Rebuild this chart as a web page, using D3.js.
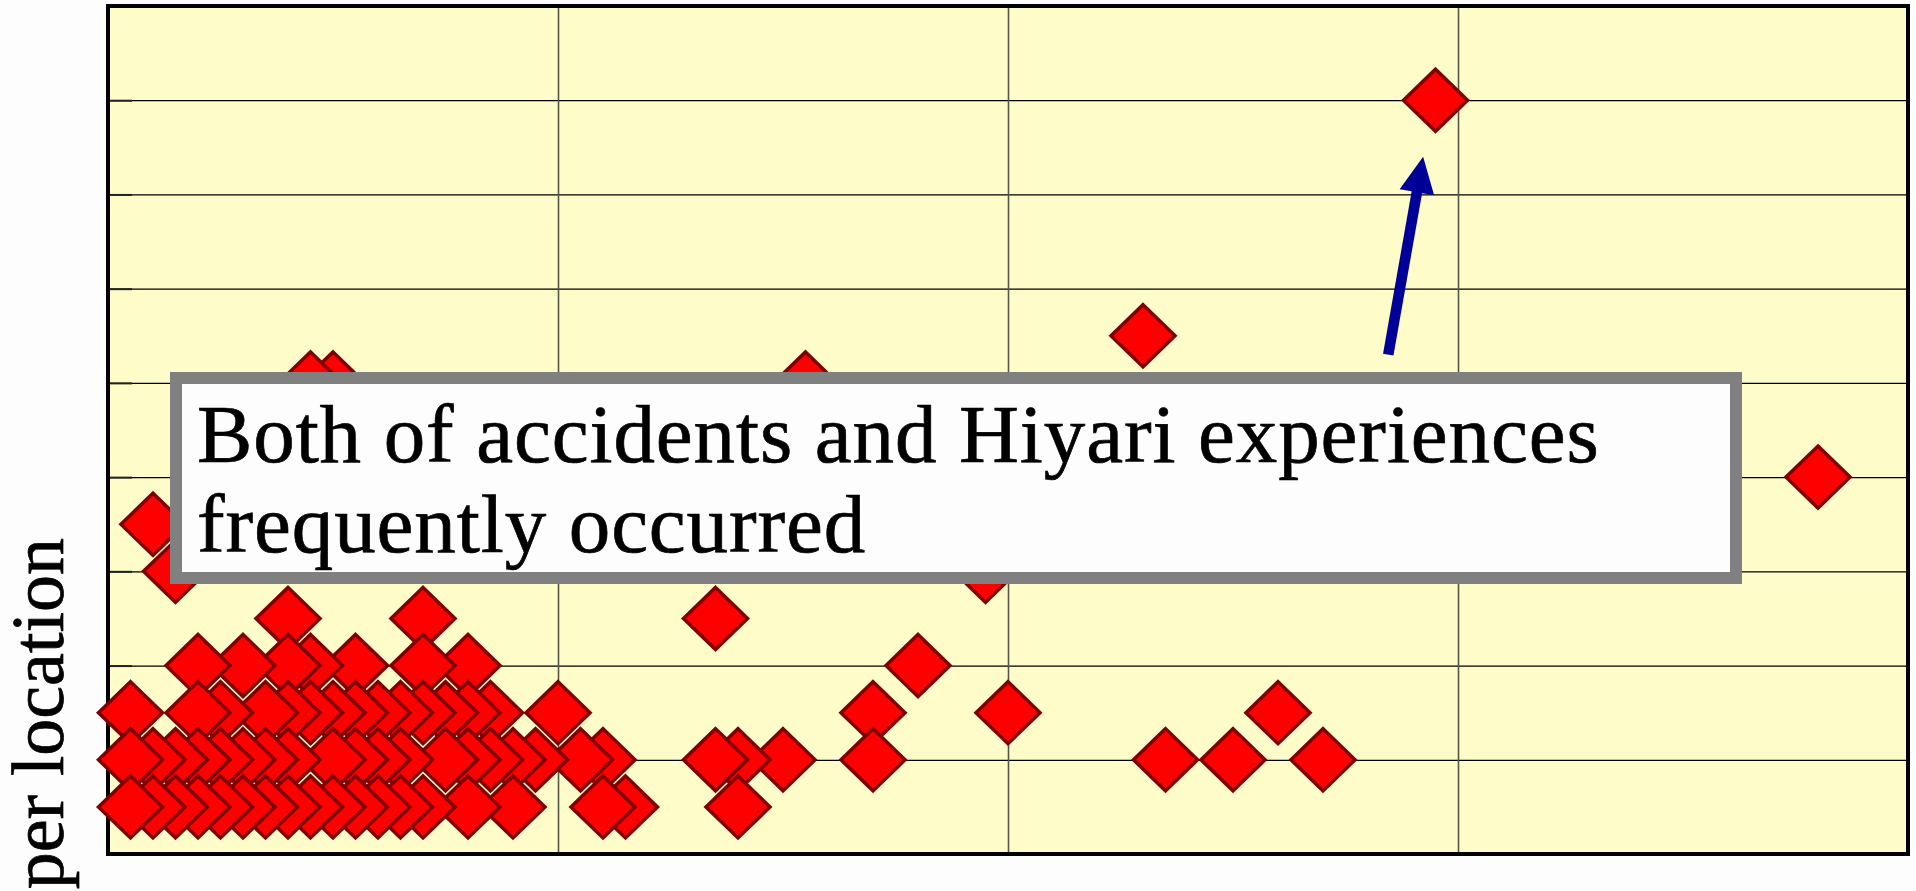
<!DOCTYPE html>
<html>
<head>
<meta charset="utf-8">
<script src="https://cdn.jsdelivr.net/npm/d3@7/dist/d3.min.js"></script>
<style>
  html, body { margin: 0; padding: 0; background: #fdfdfd; overflow: hidden; }
  svg { display: block; }
</style>
</head>
<body>
<svg id="chart" width="1916" height="891"></svg>
<script>
// ---- data (listed in drawing order) ----
const hiyariCount = [
  59,
  46,
  31, 10, 9,
  76,
  2,
  39, 3,
  27, 14, 8,
  36, 16, 14, 11, 9, 8, 6, 4,
  52, 40, 34, 20, 17, 16, 15, 14, 13, 12, 11, 10, 9, 8, 7, 5, 4, 1,
  54, 50, 47, 34, 30, 28, 27, 22, 21, 19, 18, 17, 16, 15, 13, 12, 11, 10, 8, 7, 6, 5, 4, 3, 2, 1,
  28, 23, 22, 18, 16, 14, 13, 12, 11, 10, 9, 8, 7, 6, 5, 4, 3, 2, 1
];
const accidentCount = [
  16,
  11,
  10, 10, 10,
  8,
  7,
  6, 6,
  5, 5, 5,
  4, 4, 4, 4, 4, 4, 4, 4,
  3, 3, 3, 3, 3, 3, 3, 3, 3, 3, 3, 3, 3, 3, 3, 3, 3, 3,
  2, 2, 2, 2, 2, 2, 2, 2, 2, 2, 2, 2, 2, 2, 2, 2, 2, 2, 2, 2, 2, 2, 2, 2, 2, 2,
  1, 1, 1, 1, 1, 1, 1, 1, 1, 1, 1, 1, 1, 1, 1, 1, 1, 1, 1
];
const xTicks = [0, 20, 40, 60, 80];
const yTicks = [0, 2, 4, 6, 8, 10, 12, 14, 16, 18];
const yAxisLabel = "per location";
const noteLines = ["Both of accidents and Hiyari experiences", "frequently occurred"];
const arrowFrom = [56.9, 10.6];   // data units (annotation)
const arrowTo   = [58.45, 14.8];

// ---- layout ----
const svg = d3.select("#chart");
const plot = { left: 108, right: 1908, top: 6, bottom: 854 };
const W = plot.right - plot.left, H = plot.bottom - plot.top;

const x = d3.scaleLinear().domain([0, 80]).range([plot.left, plot.right]);
const y = d3.scaleLinear().domain([0, 18]).range([plot.bottom, plot.top]);

// plot background
svg.append("rect")
  .attr("x", plot.left).attr("y", plot.top)
  .attr("width", W).attr("height", H)
  .attr("fill", "#fefcc8");

// horizontal gridlines
const gy = svg.append("g")
  .attr("transform", `translate(${plot.left},0)`)
  .call(d3.axisLeft(y).tickValues(yTicks).tickSize(-W).tickFormat(""));
gy.select(".domain").remove();
gy.selectAll("line").attr("stroke", "#000").attr("stroke-width", 1.3);

// vertical gridlines
const gx = svg.append("g")
  .attr("transform", `translate(0,${plot.bottom})`)
  .call(d3.axisBottom(x).tickValues(xTicks).tickSize(-H).tickFormat(""));
gx.select(".domain").remove();
gx.selectAll("line").attr("stroke", "#55554a").attr("stroke-width", 1.6);

// inward tick stubs on the left axis
const gs = svg.append("g")
  .attr("transform", `translate(${plot.left},0)`)
  .call(d3.axisLeft(y).tickValues(yTicks).tickSize(-24).tickFormat(""));
gs.select(".domain").remove();
gs.selectAll("line").attr("stroke", "#222").attr("stroke-width", 2);

// plot border
svg.append("rect")
  .attr("x", plot.left).attr("y", plot.top)
  .attr("width", W).attr("height", H)
  .attr("fill", "none").attr("stroke", "#000").attr("stroke-width", 4);

// points (diamonds)
const points = hiyariCount.map((v, i) => ({ x: v, y: accidentCount[i] }));
const diamond = "M0,-31L32,0L0,31L-32,0Z";
svg.append("g").selectAll("path")
  .data(points)
  .join("path")
  .attr("d", diamond)
  .attr("transform", d => `translate(${x(d.x)},${y(d.y)})`)
  .attr("fill", "#ff0000")
  .attr("stroke", "#800000")
  .attr("stroke-width", 3.5)
  .attr("stroke-linejoin", "miter");

// note box
const box = { x: 176, y: 378, w: 1560, h: 200 };
svg.append("rect")
  .attr("x", box.x).attr("y", box.y)
  .attr("width", box.w).attr("height", box.h)
  .attr("fill", "#fdfdfd").attr("stroke", "#808080").attr("stroke-width", 12);

svg.append("g").selectAll("text")
  .data(noteLines)
  .join("text")
  .attr("x", 197)
  .attr("y", (d, i) => 462 + i * 90)
  .attr("font-family", "'Liberation Serif', 'Times New Roman', serif")
  .attr("font-size", 83)
  .attr("letter-spacing", 0.9)
  .attr("fill", "#000")
  .attr("stroke", "#000")
  .attr("stroke-width", 0.7)
  .text(d => d);

// arrow
(function drawArrow() {
  const x0 = x(arrowFrom[0]), y0 = y(arrowFrom[1]);
  const x1 = x(arrowTo[0]), y1 = y(arrowTo[1]);
  const dx = x1 - x0, dy = y1 - y0, L = Math.hypot(dx, dy);
  const ux = dx / L, uy = dy / L, nx = -uy, ny = ux;
  const headLen = 36, headW = 17.5, shaftW = 5.3;
  const bx = x1 - ux * headLen, by = y1 - uy * headLen;
  const pts = [
    [x0 + nx * shaftW, y0 + ny * shaftW],
    [bx + nx * shaftW, by + ny * shaftW],
    [bx + nx * headW, by + ny * headW],
    [x1, y1],
    [bx - nx * headW, by - ny * headW],
    [bx - nx * shaftW, by - ny * shaftW],
    [x0 - nx * shaftW, y0 - ny * shaftW]
  ];
  svg.append("path")
    .attr("d", d3.line()(pts) + "Z")
    .attr("fill", "#000099");
})();

// y axis label (cropped by the frame, as in the reference)
svg.append("text")
  .attr("transform", "translate(63,538) rotate(-90)")
  .attr("text-anchor", "end")
  .attr("font-family", "'Liberation Serif', 'Times New Roman', serif")
  .attr("font-size", 74)
  .attr("fill", "#000")
  .attr("stroke", "#000")
  .attr("stroke-width", 0.7)
  .text(yAxisLabel);
</script>
</body>
</html>
